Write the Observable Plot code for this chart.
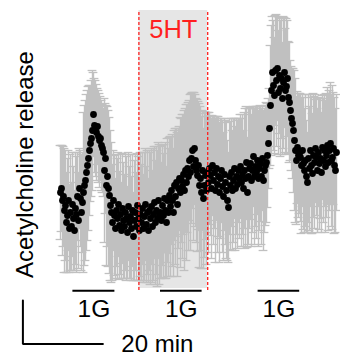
<!DOCTYPE html>
<html>
<head>
<meta charset="utf-8">
<script src="https://cdn.jsdelivr.net/npm/d3@7"></script>
<script src="https://cdn.jsdelivr.net/npm/@observablehq/plot@0.6"></script>
<style>
  html, body { margin: 0; padding: 0; background: white; }
</style>
</head>
<body>
<div id="chart"></div>
<script>
// sampling interval (min)
const dt = 0.25;

// mean acetylcholine release (a.u.)
const release = [
  98, 102, 90, 94, 80, 85, 68, 75, 90, 62,
  78, 64, 86, 72, 60, 82, 76, 94, 70, 102,
  92, 78, 88, 98, 105, 110, 118, 125, 132, 140,
  147, 152, 160, 176, 165, 162, 158, 164, 154, 150,
  152, 145, 142, 138, 120, 132, 105, 114, 102, 95,
  85, 78, 68, 90, 75, 62, 80, 72, 86, 65,
  76, 60, 82, 70, 64, 78, 72, 58, 84, 68,
  74, 62, 80, 54, 70, 78, 64, 85, 72, 60,
  76, 68, 82, 62, 74, 86, 66, 78, 60, 80,
  72, 84, 64, 76, 88, 68, 80, 72, 90, 76,
  78, 70, 85, 75, 92, 80, 68, 90, 78, 95,
  84, 100, 90, 78, 105, 94, 108, 86, 102, 112,
  98, 110, 104, 116, 100, 120, 108, 122, 114, 130,
  118, 132, 140, 124, 142, 130, 120, 115, 125, 105,
  112, 98, 120, 92, 105, 115, 100, 118, 108, 122,
  115, 102, 125, 110, 118, 100, 122, 106, 114, 98,
  112, 120, 104, 94, 116, 108, 100, 90, 83, 114,
  105, 118, 100, 110, 122, 102, 114, 106, 120, 112,
  124, 108, 116, 102, 120, 112, 128, 98, 114, 122,
  127, 110, 120, 134, 114, 124, 118, 130, 112, 122,
  127, 114, 132, 110, 120, 125, 128, 135, 147, 162,
  185, 200, 218, 205, 195, 220, 210, 222, 198, 215,
  202, 212, 192, 208, 218, 200, 204, 212, 193, 188,
  180, 172, 167, 160, 150, 140, 130, 143, 135, 137,
  133, 125, 140, 127, 120, 130, 114, 108, 132, 122,
  140, 125, 117, 135, 128, 142, 133, 120, 138, 127,
  132, 118, 143, 130, 140, 124, 135, 145, 128, 140,
  147, 130, 133, 142, 125, 120, 138
];

// SEM of release (a.u.)
const sem = [
  47, 43, 55, 50, 62, 55, 50, 57, 50, 44,
  58, 44, 52, 52, 40, 56, 58, 44, 48, 40,
  48, 58, 50, 80, 80, 80, 78, 75, 72, 65,
  58, 58, 60, 42, 47, 48, 48, 38, 46, 47,
  42, 45, 44, 44, 72, 55, 80, 70, 78, 78,
  75, 70, 58, 50, 60, 50, 56, 60, 52, 54,
  60, 48, 55, 58, 52, 58, 62, 46, 54, 56,
  62, 52, 56, 44, 60, 58, 54, 52, 62, 50,
  62, 58, 56, 54, 64, 56, 58, 62, 52, 60,
  66, 58, 56, 66, 56, 62, 64, 68, 58, 70,
  66, 58, 60, 62, 54, 68, 56, 62, 64, 58,
  70, 54, 66, 64, 55, 68, 54, 72, 60, 52,
  75, 62, 72, 60, 80, 62, 78, 64, 74, 60,
  78, 65, 58, 74, 56, 66, 72, 76, 64, 82,
  72, 76, 60, 70, 72, 64, 74, 60, 70, 56,
  60, 70, 50, 64, 56, 72, 52, 68, 60, 70,
  60, 52, 66, 64, 56, 62, 68, 60, 55, 58,
  64, 54, 60, 62, 50, 62, 58, 64, 52, 60,
  52, 64, 60, 58, 58, 70, 56, 55, 68, 60,
  56, 66, 62, 50, 68, 60, 66, 54, 68, 62,
  58, 68, 52, 70, 62, 60, 60, 52, 45, 40,
  60, 65, 56, 65, 58, 55, 66, 52, 62, 58,
  68, 60, 56, 66, 55, 62, 68, 58, 56, 60,
  50, 52, 55, 62, 70, 72, 64, 56, 62, 60,
  64, 68, 56, 66, 62, 66, 56, 50, 64, 62,
  56, 68, 60, 62, 66, 54, 58, 62, 54, 66,
  60, 60, 52, 62, 56, 66, 62, 58, 68, 60,
  61, 66, 72, 56, 68, 62, 58
];

// 5HT application window (min)
const drugLabel = "5HT";
const drugStart = 19.6;
const drugEnd = 36.8;

// 1G (glucose) stimulation periods (min)
const stimLabels = ["1G", "1G", "1G"];
const stimStart = [3.1, 25.0, 49.4];
const stimEnd = [13.6, 35.4, 59.8];

// scale bar
const scaleMinutes = 20;
const scaleLabel = "20 min";
const yLabel = "Acetylcholine release";

const rows = release.map((m, i) => ({t: i * dt, m, s: sem[i]}));
const stims = stimLabels.map((label, i) => ({label, x1: stimStart[i], x2: stimEnd[i], mid: (stimStart[i] + stimEnd[i]) / 2}));

// annotation placement (in scale units)
const sbX = -9.4, sbTop = -10, sbBottom = -53.5;
const scaleBar = [
  {x: sbX, y: sbTop},
  {x: sbX, y: sbBottom},
  {x: sbX + scaleMinutes, y: sbBottom}
];

const gray = "#c0c0c0";
const red = "#ff1f1f";

const chart = Plot.plot({
  width: 340,
  height: 356,
  marginLeft: 60,
  marginRight: 4,
  marginTop: 10,
  marginBottom: 66,
  x: {domain: [0, 69], axis: null},
  y: {domain: [0, 280], axis: null},
  style: {background: "white", fontFamily: "'Liberation Sans', Arial, Helvetica, sans-serif"},
  marks: [
    Plot.rect([{x1: drugStart, x2: drugEnd}], {x1: "x1", x2: "x2", y1: 2, y2: 280, fill: "#e6e6e6"}),
    Plot.ruleX(rows, {x: "t", y1: d => d.m - d.s, y2: d => d.m + d.s, stroke: gray, strokeWidth: 1.4}),
    Plot.ruleY(rows, {y: d => d.m + d.s, x1: d => d.t - 1.1, x2: d => d.t + 1.1, stroke: gray, strokeWidth: 1.3}),
    Plot.ruleY(rows, {y: d => d.m - d.s, x1: d => d.t - 1.1, x2: d => d.t + 1.1, stroke: gray, strokeWidth: 1.3}),
    Plot.dot(rows, {x: "t", y: "m", r: 3.4, fill: "black"}),
    Plot.ruleX([drugStart, drugEnd], {y1: 0, y2: 280, stroke: red, strokeWidth: 1.3, strokeDasharray: "3,2"}),
    Plot.text([drugLabel], {x: (drugStart + drugEnd) / 2, y: 252.7, text: d => d, fill: red, fontSize: 25.5, lineAnchor: "bottom"}),
    Plot.ruleY(stims, {y: -0.3, x1: "x1", x2: "x2", stroke: "black", strokeWidth: 2}),
    Plot.text(stims, {x: "mid", y: -26, text: "label", fontSize: 24.5, lineAnchor: "bottom", fill: "black"}),
    Plot.line(scaleBar, {x: "x", y: "y", stroke: "black", strokeWidth: 2, strokeLinejoin: "miter", curve: "linear"}),
    Plot.text([scaleLabel], {x: 15.2, y: -61.5, text: d => d, textAnchor: "start", fontSize: 24, lineAnchor: "bottom", fill: "black"}),
    Plot.text([yLabel], {x: -7, y: 126, text: d => d, rotate: -90, fontSize: 24, lineAnchor: "bottom", fill: "black"})
  ]
});
document.getElementById("chart").appendChild(chart);
</script>
</body>
</html>
